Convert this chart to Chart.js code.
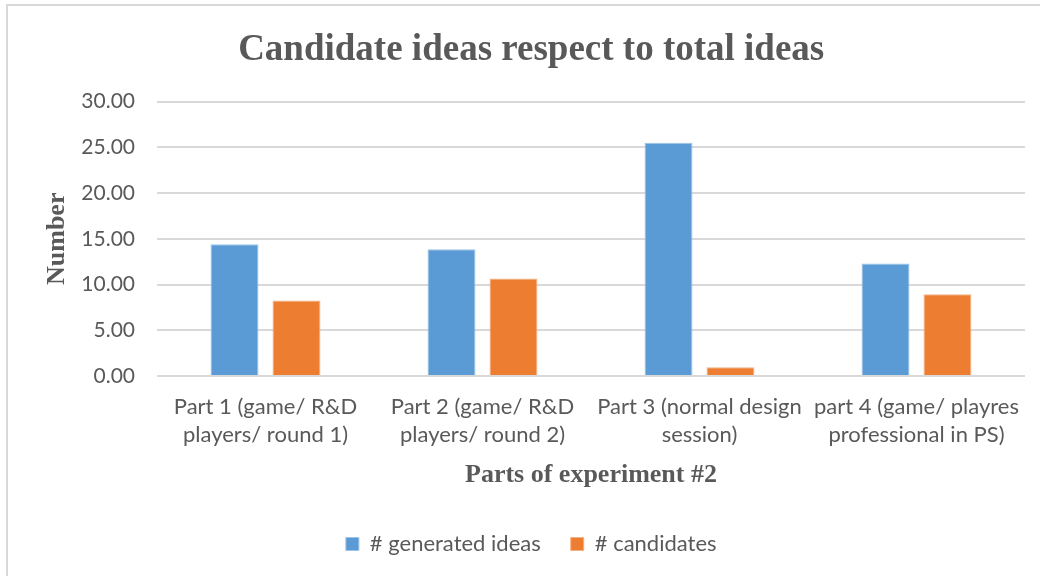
<!DOCTYPE html>
<html>
<head>
<meta charset="utf-8">
<script src="https://cdn.jsdelivr.net/npm/chart.js@4.4.0/dist/chart.umd.min.js"></script>
<style>
  body { margin: 0; background: #fff; overflow: hidden; width: 1040px; height: 576px; position: relative; }
  #frame { position: absolute; left: 6px; top: 4px; border-left: 2px solid #d9d9d9; border-top: 2px solid #d9d9d9; width: 1048px; height: 580px; }
</style>
</head>
<body>
<div id="frame"><canvas id="grafico" width="1048" height="580" style="width:1048px;height:580px"></canvas></div>
<script>
// ========== dados =============
const categorias = [
  ["Part 1 (game/ R&D", "players/ round 1)"],
  ["Part 2 (game/ R&D", "players/ round 2)"],
  ["Part 3 (normal design", "session)"],
  ["part 4 (game/ playres", "professional in PS)"],
];
const ideiasGeradas = [14.4, 13.85, 25.5, 12.3];
const candidatos = [8.25, 10.65, 0.95, 8.95];
const ticksY = [0, 5, 10, 15, 20, 25, 30];

const cinza = "#595959";

function plotarGrafico(idGrafico) {
  const ctx = document.getElementById(idGrafico).getContext("2d");
  let myChart = new Chart(ctx, {
    type: "bar",
    data: {
      labels: categorias,
      datasets: [
        {
          label: "# generated ideas",
          data: ideiasGeradas,
          backgroundColor: "#5B9BD5",
          borderColor: "#9DC3E6",
          borderWidth: 1,
          barPercentage: 0.774,
          categoryPercentage: 0.571,
        },
        {
          label: "# candidates",
          data: candidatos,
          backgroundColor: "#ED7D31",
          borderColor: "#F4B183",
          borderWidth: 1,
          barPercentage: 0.774,
          categoryPercentage: 0.571,
        },
      ],
    },
    options: {
      responsive: false,
      animation: false,
      layout: { padding: { left: 29.4, right: 31, top: 0, bottom: 21 } },
      plugins: {
        title: {
          display: true,
          text: "Candidate ideas respect to total ideas",
          color: cinza,
          font: { family: "'Liberation Serif', 'Times New Roman', serif", size: 37, weight: "bold" },
          padding: { top: 21.8, bottom: 29.4 },
        },
        legend: {
          position: "bottom",
          labels: {
            boxWidth: 13,
            boxHeight: 13,
            padding: 30,
            color: cinza,
            font: { family: "Lato, sans-serif", size: 22 },
          },
        },
        tooltip: { enabled: false },
      },
      scales: {
        x: {
          grid: { display: false, drawTicks: false },
          border: { display: false },
          ticks: {
            color: cinza,
            padding: 17,
            maxRotation: 0,
            autoSkip: false,
            font: { family: "Lato, sans-serif", size: 22, lineHeight: 1.27 },
          },
          title: {
            display: true,
            text: "Parts of experiment #2",
            color: cinza,
            font: { family: "'Liberation Serif', 'Times New Roman', serif", size: 26, weight: "bold" },
            padding: { top: 4, bottom: 12 },
          },
          afterFit: (scale) => { scale.height = 127; },
        },
        y: {
          min: 0,
          max: 30,
          afterBuildTicks: (scale) => { scale.ticks = ticksY.map((v) => ({ value: v })); },
          grid: { color: "#d9d9d9", lineWidth: 2, drawTicks: false },
          border: { display: false },
          ticks: {
            color: cinza,
            padding: 22,
            font: { family: "Lato, sans-serif", size: 21 },
            callback: (v) => Number(v).toFixed(2),
          },
          title: {
            display: true,
            text: "Number",
            color: cinza,
            font: { family: "'Liberation Serif', 'Times New Roman', serif", size: 26, weight: "bold" },
            padding: { top: 4, bottom: 4 },
          },
          afterFit: (scale) => { scale.width = 119.6; },
        },
      },
    },
  });
}

plotarGrafico("grafico");
</script>
</body>
</html>
